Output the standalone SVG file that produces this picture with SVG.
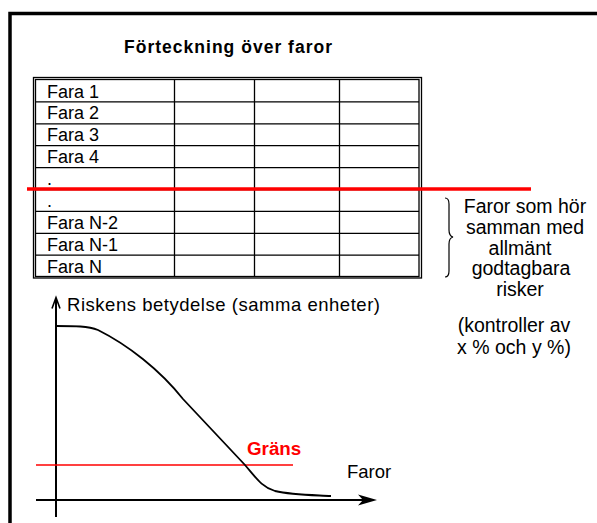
<svg xmlns="http://www.w3.org/2000/svg" width="597" height="523" viewBox="0 0 597 523">
<style>
text{font-family:"Liberation Sans",Arial,sans-serif;fill:#000}
.cell{font-size:18px}
.side{font-size:19.5px;text-anchor:middle}
.grid{stroke:#000;stroke-width:1.3;fill:none}
.ax{stroke:#000;stroke-width:2;fill:none}
</style>
<rect width="597" height="523" fill="#fff"/>
<g id="frame"><path d="M10,523 V13.5 H597" fill="none" stroke="#000" stroke-width="3.5"/></g>
<g id="title"><text x="228" y="53" font-size="17.5" font-weight="bold" text-anchor="middle" textLength="208">Förteckning över faror</text></g>
<g id="table">
<rect class="grid" x="33.5" y="77.5" width="388" height="200.5"/>
<rect class="grid" x="35.5" y="79.5" width="383.5" height="197"/>
<path class="grid" d="M35,101.9H419M35,123.8H419M35,145.7H419M35,167.6H419M35,189.5H419M35,211.4H419M35,233.3H419M35,255.2H419M174.5,80V277M254.5,80V277M339.5,80V277"/>
<text class="cell" x="47" y="97.5">Fara 1</text>
<text class="cell" x="47" y="119.4">Fara 2</text>
<text class="cell" x="47" y="141.3">Fara 3</text>
<text class="cell" x="47" y="163.2">Fara 4</text>
<text class="cell" x="47" y="185.1">.</text>
<text class="cell" x="47" y="207">.</text>
<text class="cell" x="47" y="228.9">Fara N-2</text>
<text class="cell" x="47" y="250.8">Fara N-1</text>
<text class="cell" x="47" y="272.7">Fara N</text>
</g>
<g id="cutline"><line x1="27" y1="189" x2="531" y2="189" stroke="#f00" stroke-width="3.5"/></g>
<g id="bracket"><path d="M445,198 Q449,198 449,204 L449,230 Q449,236 453,237 Q449,238 449,244 L449,271 Q449,277 445,277" fill="none" stroke="#000" stroke-width="1.2"/></g>
<g id="sidenote">
<text class="side" x="525" y="213">Faror som hör</text>
<text class="side" x="525" y="234">samman med</text>
<text class="side" x="520" y="255">allmänt</text>
<text class="side" x="521" y="275">godtagbara</text>
<text class="side" x="520" y="296">risker</text>
<text class="side" x="514" y="332">(kontroller av</text>
<text class="side" x="514" y="354">x % och y %)</text>
</g>
<g id="chart">
<line class="ax" x1="56" y1="299" x2="56" y2="517"/>
<path d="M52,308.5 L56,297.5 L60,308.5" fill="none" stroke="#000" stroke-width="1.6"/>
<line class="ax" x1="36" y1="500" x2="366" y2="500"/>
<path d="M377,500 L358,494.5 L363,500 L358,505.5 Z" fill="#000"/>
<text x="67" y="311" font-size="18.5" textLength="313">Riskens betydelse (samma enheter)</text>
<line x1="36" y1="465" x2="293" y2="465" stroke="#f00" stroke-width="1.5"/>
<text x="247" y="455" font-size="18.8" font-weight="bold" style="fill:#f00">Gräns</text>
<text x="347" y="478" font-size="18.5">Faror</text>
<path d="M56,326 C75,326 88,326 98,330 C128,345 160,370 183,399 L245,465 C257,479 262,487 275,491 C292,495 312,495 331,496" fill="none" stroke="#000" stroke-width="1.8"/>
</g>
</svg>
